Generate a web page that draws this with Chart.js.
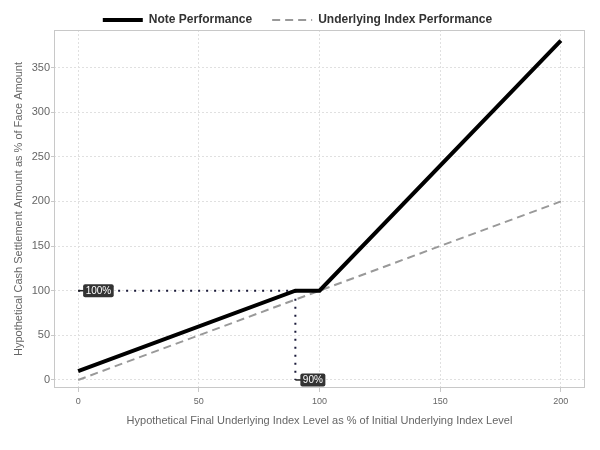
<!DOCTYPE html>
<html>
<head>
<meta charset="utf-8">
<script src="https://cdn.jsdelivr.net/npm/chart.js@4.4.0/dist/chart.umd.min.js"></script>
<style>
html, body { margin: 0; padding: 0; background: #fff; }
#wrap { width: 600px; height: 450px; }
</style>
</head>
<body>
<div id="wrap"><canvas id="chart"></canvas></div>
<script>
// Daten
const indexLevels = [0, 90, 100, 200];
const noteValues = [10, 100, 100, 380];
const underlyingLevels = [0, 200];
const underlyingValues = [0, 200];
const guideH = { x: [0, 90], y: [100, 100] };
const guideV = { x: [90, 90], y: [100, 0] };
const markLabels = [
    { x: 0, y: 100, text: '100%' },
    { x: 90, y: 0, text: '90%' }
];
const xTicks = [0, 50, 100, 150, 200];
const yTicks = [0, 50, 100, 150, 200, 250, 300, 350];

const toPoints = (xs, ys) => xs.map((x, i) => ({ x: x, y: ys[i] }));

Chart.defaults.font.family = '"Liberation Sans", Arial, sans-serif';

// Legendenhöhe fixieren, Rahmen und Beschriftungen
const extras = {
    id: 'extras',
    beforeUpdate(chart) {
        const lg = chart.legend;
        if (lg && !lg._fixed) {
            const fit = lg.fit;
            lg.fit = function() { fit.call(this); this.height = 36; };
            lg._fixed = true;
        }
    },
    beforeDatasetsDraw(chart) {
        const { ctx, chartArea: a } = chart;
        ctx.save();
        ctx.strokeStyle = '#c8c8c8';
        ctx.lineWidth = 1;
        ctx.strokeRect(a.left + 0.5, a.top + 0.5, a.right - a.left - 1, a.bottom - a.top - 1);
        ctx.restore();
    },
    afterDatasetsDraw(chart) {
        const { ctx, scales } = chart;
        ctx.save();
        ctx.font = '10px "Liberation Sans", Arial, sans-serif';
        ctx.textBaseline = 'middle';
        markLabels.forEach(l => {
            const px = scales.x.getPixelForValue(l.x);
            const py = scales.y.getPixelForValue(l.y);
            const w = ctx.measureText(l.text).width + 5;
            const h = 13;
            ctx.strokeStyle = '#222';
            ctx.lineWidth = 1.5;
            ctx.beginPath();
            ctx.moveTo(px, py);
            ctx.lineTo(px + 6, py);
            ctx.stroke();
            ctx.fillStyle = '#333';
            ctx.beginPath();
            ctx.roundRect(px + 5, py - h / 2, w, h, 2);
            ctx.fill();
            ctx.fillStyle = '#fff';
            ctx.fillText(l.text, px + 7.5, py + 0.5);
        });
        ctx.restore();
    }
};

const setTicks = list => scale => {
    scale.ticks = list.map(v => ({ value: v }));
};

new Chart(document.getElementById('chart'), {
    type: 'line',
    data: {
        datasets: [
            {
                label: 'Note Performance',
                data: toPoints(indexLevels, noteValues),
                borderColor: '#000',
                backgroundColor: '#000',
                borderWidth: 4,
                pointRadius: 0,
                order: 1
            },
            {
                label: 'Underlying Index Performance',
                data: toPoints(underlyingLevels, underlyingValues),
                borderColor: '#999',
                backgroundColor: '#999',
                borderWidth: 2,
                borderDash: [8, 5],
                pointRadius: 0,
                order: 2
            },
            {
                label: 'guideH',
                data: toPoints(guideH.x, guideH.y),
                borderColor: '#1a1a3a',
                borderWidth: 2,
                borderDash: [2, 6],
                pointRadius: 0,
                order: 3
            },
            {
                label: 'guideV',
                data: toPoints(guideV.x, guideV.y),
                borderColor: '#1a1a3a',
                borderWidth: 2,
                borderDash: [2, 6],
                pointRadius: 0,
                order: 3
            }
        ]
    },
    options: {
        responsive: true,
        maintainAspectRatio: false,
        animation: false,
        layout: { padding: { left: 10, right: 15, top: -6, bottom: 22 } },
        plugins: {
            tooltip: { enabled: false },
            legend: {
                position: 'top',
                labels: {
                    usePointStyle: true,
                    pointStyle: 'line',
                    pointStyleWidth: 40,
                    boxHeight: 12,
                    padding: 20,
                    color: '#333',
                    font: { size: 12, weight: 'bold' },
                    generateLabels: chart => chart.data.datasets.slice(0, 2).map((ds, i) => ({
                        text: ds.label,
                        datasetIndex: i,
                        strokeStyle: ds.borderColor,
                        fillStyle: ds.borderColor,
                        lineWidth: ds.borderWidth,
                        lineDash: ds.borderDash || [],
                        pointStyle: 'line',
                        fontColor: '#333'
                    }))
                }
            }
        },
        scales: {
            x: {
                type: 'linear',
                min: -10,
                max: 210,
                afterBuildTicks: setTicks(xTicks),
                afterFit: s => { s.height = 40; },
                border: { display: false, dash: [2, 2] },
                grid: { color: '#e0e0e0', tickColor: '#c8c8c8', tickLength: 4 },
                ticks: { color: '#666', font: { size: 9 }, padding: 4 },
                title: {
                    display: true,
                    text: 'Hypothetical Final Underlying Index Level as % of Initial Underlying Index Level',
                    color: '#666',
                    font: { size: 11 },
                    padding: { top: 0, bottom: 0 }
                }
            },
            y: {
                min: -9,
                max: 392,
                afterBuildTicks: setTicks(yTicks),
                afterFit: s => { s.width = 44; },
                border: { display: false, dash: [2, 2] },
                grid: { color: '#e0e0e0', tickColor: '#c8c8c8', tickLength: 3 },
                ticks: { color: '#666', font: { size: 11 }, padding: 1 },
                title: {
                    display: true,
                    text: 'Hypothetical Cash Settlement Amount as % of Face Amount',
                    color: '#666',
                    font: { size: 11 },
                    padding: { top: 2, bottom: 4 }
                }
            }
        }
    },
    plugins: [extras]
});
</script>
</body>
</html>
